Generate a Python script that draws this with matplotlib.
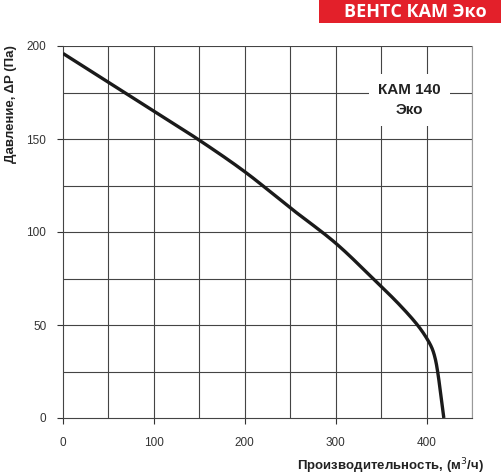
import matplotlib.pyplot as plt
import numpy as np

# fan curve
flow = [0, 100, 148, 200, 250, 300, 341, 370, 390, 400, 406, 409.5, 412.5, 416, 419]
pressure = [196, 165, 150, 132.4, 113, 94, 75, 61, 50, 43, 37.5, 32, 24, 11, 0]

x_ticks = [0, 100, 200, 300, 400]
y_ticks = [0, 50, 100, 150, 200]


def smooth(xs, ys, sx, sy, n=30):
    # centripetal catmull-rom through the read points, in screen-ish units
    p = np.column_stack([np.asarray(xs) * sx, np.asarray(ys) * sy])
    p = np.vstack([2 * p[0] - p[1], p, 2 * p[-1] - p[-2]])
    out = []
    for i in range(1, len(p) - 2):
        p0, p1, p2, p3 = p[i - 1], p[i], p[i + 1], p[i + 2]
        t0 = 0.0
        t1 = t0 + np.linalg.norm(p1 - p0) ** 0.5
        t2 = t1 + np.linalg.norm(p2 - p1) ** 0.5
        t3 = t2 + np.linalg.norm(p3 - p2) ** 0.5
        t = np.linspace(t1, t2, n)[:, None]
        a1 = (t1 - t) / (t1 - t0) * p0 + (t - t0) / (t1 - t0) * p1
        a2 = (t2 - t) / (t2 - t1) * p1 + (t - t1) / (t2 - t1) * p2
        a3 = (t3 - t) / (t3 - t2) * p2 + (t - t2) / (t3 - t2) * p3
        b1 = (t2 - t) / (t2 - t0) * a1 + (t - t0) / (t2 - t0) * a2
        b2 = (t3 - t) / (t3 - t1) * a2 + (t - t1) / (t3 - t1) * a3
        c = (t2 - t) / (t2 - t1) * b1 + (t - t1) / (t2 - t1) * b2
        out.append(c)
    out = np.vstack(out)
    return out[:, 0] / sx, out[:, 1] / sy


plt.rcParams['font.family'] = ['Liberation Sans', 'DejaVu Sans']

fig = plt.figure(figsize=(5.01, 4.75), dpi=100)
ax = fig.add_axes([63/501, 57/475, 409/501, 372/475])

for gx in np.arange(50, 451, 50):
    ax.axvline(gx, color='#444444', lw=0.8, zorder=1)
for gy in np.arange(25, 201, 25):
    ax.axhline(gy, color='#444444', lw=0.8, zorder=1)

sx_, sy_ = smooth(flow, pressure, 409 / 450, 372 / 200)
ax.plot(sx_, sy_, color='#1a1a1a', lw=2.4, zorder=4, solid_capstyle='butt')

ax.set_xlim(0, 450)
ax.set_ylim(0, 200)
ax.set_xticks(x_ticks)
ax.set_yticks(y_ticks)
ax.tick_params(axis='both', labelsize=8.5, colors='#333333', length=4, width=0.8, pad=8)
ax.tick_params(axis='x', pad=10)
ax.spines['top'].set_visible(False)
ax.spines['right'].set_color('#999999')
ax.spines['left'].set_color('#444444')
ax.spines['bottom'].set_color('#444444')

ax.text(381, 171, 'КАМ 140\nЭко', ha='center', va='center', fontsize=11,
        fontweight='bold', color='#222222', linespacing=1.6, zorder=3,
        bbox=dict(facecolor='white', edgecolor='none', pad=6.5))

fig.text(390/501, 1 - 466/475, 'Производительность, (м$^3$/ч)', ha='center', va='center',
         fontsize=9.5, fontweight='bold', color='#222222')
fig.text(11/501, 1 - 104/475, 'Давление, ΔP (Па)', ha='center', va='center',
         rotation=90, fontsize=9.5, fontweight='bold', color='#222222')

# red title badge
fig.patches.append(plt.Rectangle((319/501, 1 - 23/475), 182/501, 23/475,
                                 transform=fig.transFigure, facecolor='#e3202a',
                                 edgecolor='none', zorder=0))
fig.text(415/501, 1 - 12/475, 'ВЕНТС КАМ Эко', ha='center', va='center',
         fontsize=13, fontweight='bold', color='white', family=['Open Sans', 'DejaVu Sans'])

fig.savefig('out.png', dpi=100)
